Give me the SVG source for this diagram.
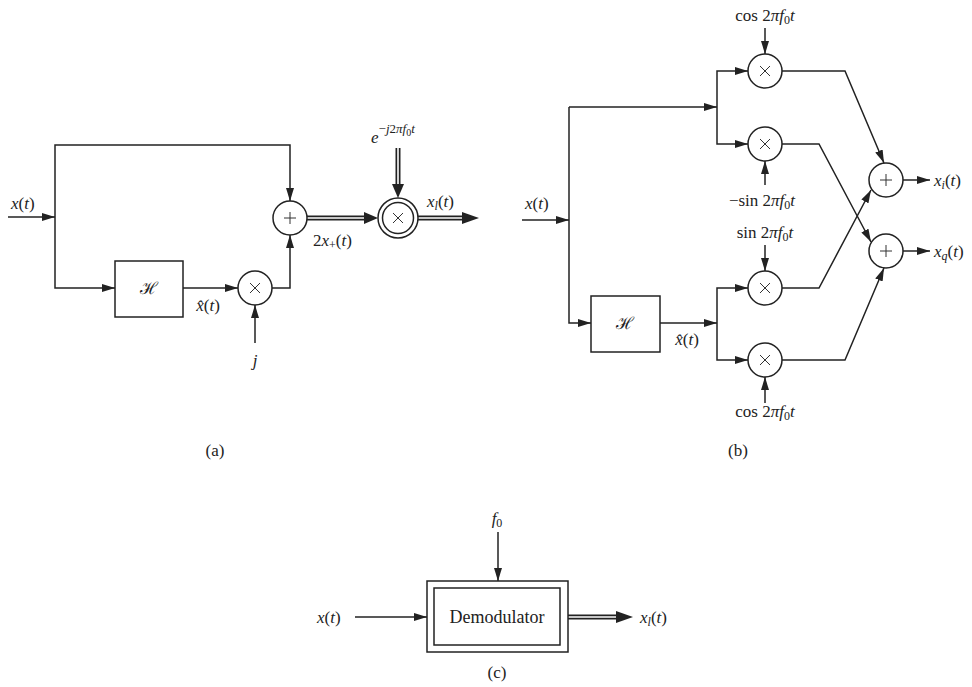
<svg xmlns="http://www.w3.org/2000/svg" width="972" height="687" viewBox="0 0 972 687">
<defs>
<marker id="arr" markerUnits="userSpaceOnUse" markerWidth="14" markerHeight="10" refX="13" refY="5" orient="auto">
<path d="M0,1 L13,5 L0,9 Z" fill="#222"/>
</marker>
</defs>
<style>
.w{fill:none;stroke:#222;stroke-width:1.5}
.a{fill:none;stroke:#222;stroke-width:1.5;marker-end:url(#arr)}
.dbl{fill:none;stroke:#222;stroke-width:5}
.dw{fill:none;stroke:#fff;stroke-width:1.6}
.n{fill:#fff;stroke:#222;stroke-width:1.5}
.op{fill:none;stroke:#333;stroke-width:1}
.t{font-family:'Liberation Serif',serif;font-size:17px;fill:#222}
.i{font-style:italic}
.c{text-anchor:middle}
.s{font-size:12px}
</style>

<g id="connectors">
<!-- (a) -->
<path class="a" d="M8,217 L55,217"/>
<path class="a" d="M55,217 L55,145 L290,145 L290,201"/>
<path class="a" d="M55,217 L55,288 L115,288"/>
<path class="a" d="M183,288 L238,288"/>
<path class="a" d="M272,288 L290,288 L290,235"/>
<path class="a" d="M255,343 L255,305"/>
<path class="dbl" d="M307,218 L366,218"/><path class="dw" d="M306,218 L367,218"/>
<path d="M364,212 L378,218 L364,224 Z" fill="#222"/>
<path class="dbl" d="M398,148 L398,186"/><path class="dw" d="M398,147 L398,187"/>
<path d="M392,184 L398,198 L404,184 Z" fill="#222"/>
<path class="dbl" d="M418,218 L464,218"/><path class="dw" d="M418,218 L465,218"/>
<path d="M462,212 L479,218 L462,224 Z" fill="#222"/>
<!-- (b) -->
<path class="a" d="M522,220 L569,220"/>
<path class="w" d="M569,220 L569,107"/>
<path class="a" d="M569,107 L717,107"/>
<path class="a" d="M569,220 L569,323 L591,323"/>
<path class="a" d="M660,323 L717,323"/>
<path class="a" d="M717,107 L717,71 L748,71"/>
<path class="a" d="M717,107 L717,144 L748,144"/>
<path class="a" d="M717,323 L717,288 L748,288"/>
<path class="a" d="M717,323 L717,360 L748,360"/>
<path class="a" d="M765,28 L765,54"/>
<path class="a" d="M765,185 L765,161"/>
<path class="a" d="M765,245 L765,271"/>
<path class="a" d="M765,403 L765,377"/>
<path class="a" d="M782,71 L845,71 L884,163"/>
<path class="a" d="M782,144 L819,144 L871,242"/>
<path class="a" d="M782,288 L819,288 L871,190"/>
<path class="a" d="M782,360 L845,360 L884,268"/>
<path class="a" d="M903,180 L930,180"/>
<path class="a" d="M903,251 L930,251"/>
<!-- (c) -->
<path class="a" d="M355,617 L427,617"/>
<path class="a" d="M498,532 L498,581"/>
<path class="dbl" d="M568,617 L618,617"/><path class="dw" d="M568,617 L619,617"/>
<path d="M616,611 L633,617 L616,623 Z" fill="#222"/>
</g>

<g id="a_sum"><circle class="n" cx="290" cy="218" r="17"/><path class="op" d="M284,218 H296 M290,212 V224"/></g>
<g id="a_H"><rect class="n" x="115" y="261" width="68" height="56"/><text class="t c" x="149" y="294" style="font-size:17px">ℋ</text></g>
<g id="a_mulj"><circle class="n" cx="255" cy="288" r="17"/><path class="op" d="M250,283 L260,293 M260,283 L250,293"/></g>
<g id="a_mulexp"><circle class="n" cx="398" cy="218" r="20"/><circle class="n" cx="398" cy="218" r="15.5"/><path class="op" d="M393,213 L403,223 M403,213 L393,223"/></g>

<g id="b_m1"><circle class="n" cx="765" cy="71" r="17"/><path class="op" d="M760,66 L770,76 M770,66 L760,76"/></g>
<g id="b_m2"><circle class="n" cx="765" cy="144" r="17"/><path class="op" d="M760,139 L770,149 M770,139 L760,149"/></g>
<g id="b_m3"><circle class="n" cx="765" cy="288" r="17"/><path class="op" d="M760,283 L770,293 M770,283 L760,293"/></g>
<g id="b_m4"><circle class="n" cx="765" cy="360" r="17"/><path class="op" d="M760,355 L770,365 M770,355 L760,365"/></g>
<g id="b_si"><circle class="n" cx="886" cy="180" r="17"/><path class="op" d="M880,180 H892 M886,174 V186"/></g>
<g id="b_sq"><circle class="n" cx="886" cy="251" r="17"/><path class="op" d="M880,251 H892 M886,245 V257"/></g>
<g id="b_H"><rect class="n" x="591" y="296" width="69" height="56"/><text class="t c" x="625" y="329" style="font-size:17px">ℋ</text></g>

<g id="c_demod"><rect class="n" x="427" y="581" width="141" height="71"/><rect class="n" x="434" y="588" width="126" height="57"/><text class="t c" x="497" y="623" style="font-size:18px">Demodulator</text></g>

<g id="labels">
<text class="t" x="11" y="209"><tspan class="i">x</tspan>(<tspan class="i">t</tspan>)</text>
<text class="t c" x="208" y="311"><tspan class="i">x̂</tspan>(<tspan class="i">t</tspan>)</text>
<text class="t c i" x="255" y="366">j</text>
<text class="t" x="313" y="246">2<tspan class="i">x</tspan><tspan class="s" dy="3">+</tspan><tspan dy="-3">(</tspan><tspan class="i">t</tspan>)</text>
<text class="t" x="427" y="207"><tspan class="i">x</tspan><tspan class="s i" dy="3">l</tspan><tspan dy="-3">(</tspan><tspan class="i">t</tspan>)</text>
<text class="t" x="371" y="143"><tspan class="i">e</tspan><tspan style="font-size:13px" dy="-10">−<tspan class="i">j</tspan>2<tspan class="i">πf</tspan><tspan dy="3" style="font-size:10px">0</tspan><tspan class="i" dy="-3">t</tspan></tspan></text>
<text class="t c" x="215" y="456">(a)</text>

<text class="t" x="525" y="209"><tspan class="i">x</tspan>(<tspan class="i">t</tspan>)</text>
<text class="t c" x="765" y="21">cos 2<tspan class="i">πf</tspan><tspan class="s" dy="3">0</tspan><tspan class="i" dy="-3">t</tspan></text>
<text class="t c" x="762" y="206">−sin 2<tspan class="i">πf</tspan><tspan class="s" dy="3">0</tspan><tspan class="i" dy="-3">t</tspan></text>
<text class="t c" x="765" y="238">sin 2<tspan class="i">πf</tspan><tspan class="s" dy="3">0</tspan><tspan class="i" dy="-3">t</tspan></text>
<text class="t c" x="765" y="417">cos 2<tspan class="i">πf</tspan><tspan class="s" dy="3">0</tspan><tspan class="i" dy="-3">t</tspan></text>
<text class="t c" x="687" y="345"><tspan class="i">x̂</tspan>(<tspan class="i">t</tspan>)</text>
<text class="t" x="934" y="186"><tspan class="i">x</tspan><tspan class="s i" dy="3">i</tspan><tspan dy="-3">(</tspan><tspan class="i">t</tspan>)</text>
<text class="t" x="934" y="257"><tspan class="i">x</tspan><tspan class="s i" dy="3">q</tspan><tspan dy="-3">(</tspan><tspan class="i">t</tspan>)</text>
<text class="t c" x="738" y="456">(b)</text>

<text class="t c" x="497" y="524"><tspan class="i">f</tspan><tspan class="s" dy="3">0</tspan></text>
<text class="t" x="317" y="623"><tspan class="i">x</tspan>(<tspan class="i">t</tspan>)</text>
<text class="t" x="640" y="623"><tspan class="i">x</tspan><tspan class="s i" dy="3">l</tspan><tspan dy="-3">(</tspan><tspan class="i">t</tspan>)</text>
<text class="t c" x="497" y="678">(c)</text>
</g>
</svg>
